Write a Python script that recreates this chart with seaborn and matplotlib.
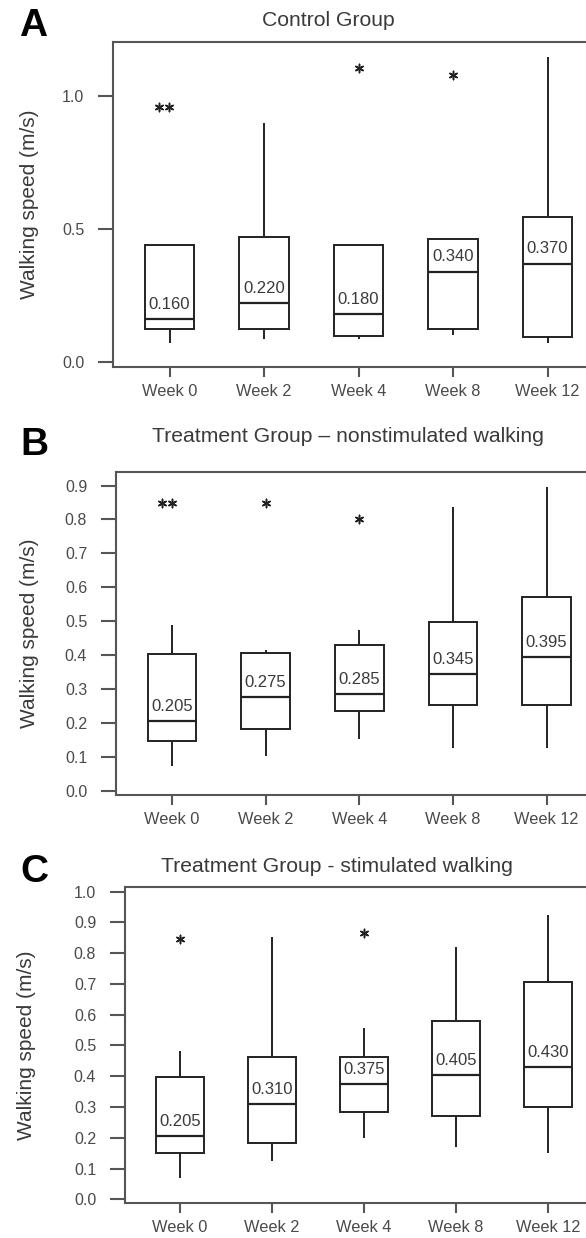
import numpy as np
import pandas as pd
import matplotlib
matplotlib.use("Agg")
import matplotlib.pyplot as plt
from matplotlib.ticker import FormatStrFormatter
import seaborn as sns

# ---------------- data ----------------
weeks = ["Week 0", "Week 2", "Week 4", "Week 8", "Week 12"]

# Control group: five-number summaries (lower whisker, Q1, median, Q3, upper whisker)
ctrl_lo = [0.073, 0.085, 0.086, 0.100, 0.070]
ctrl_q1 = [0.123, 0.123, 0.099, 0.123, 0.095]
ctrl_med = [0.160, 0.220, 0.180, 0.340, 0.370]
ctrl_q3 = [0.440, 0.469, 0.440, 0.462, 0.546]
ctrl_hi = [0.440, 0.900, 0.440, 0.462, 1.148]
ctrl_out_week = ["Week 0", "Week 0", "Week 4", "Week 8"]
ctrl_out_val = [0.960, 0.960, 1.104, 1.080]

# Treatment group, nonstimulated walking
nons_lo = [0.073, 0.102, 0.152, 0.125, 0.125]
nons_q1 = [0.146, 0.181, 0.234, 0.253, 0.253]
nons_med = [0.205, 0.275, 0.285, 0.345, 0.395]
nons_q3 = [0.403, 0.405, 0.430, 0.497, 0.571]
nons_hi = [0.490, 0.415, 0.474, 0.838, 0.897]
nons_out_week = ["Week 0", "Week 0", "Week 2", "Week 4"]
nons_out_val = [0.848, 0.848, 0.850, 0.800]

# Treatment group, stimulated walking
stim_lo = [0.068, 0.125, 0.200, 0.171, 0.152]
stim_q1 = [0.150, 0.182, 0.285, 0.272, 0.299]
stim_med = [0.205, 0.310, 0.375, 0.405, 0.430]
stim_q3 = [0.399, 0.462, 0.462, 0.580, 0.707]
stim_hi = [0.483, 0.854, 0.556, 0.821, 0.924]
stim_out_week = ["Week 0", "Week 4"]
stim_out_val = [0.846, 0.865]

ctrl_title = "Control Group"
nons_title = "Treatment Group \u2013 nonstimulated walking"
stim_title = "Treatment Group - stimulated walking"
ylabel = "Walking speed (m/s)"

ctrl_yticks = [0.0, 0.5, 1.0]
nons_yticks = [0.0, 0.1, 0.2, 0.3, 0.4, 0.5, 0.6, 0.7, 0.8, 0.9]
stim_yticks = [0.0, 0.1, 0.2, 0.3, 0.4, 0.5, 0.6, 0.7, 0.8, 0.9, 1.0]

# ---------------- style ----------------
sns.set_theme(style="white")
plt.rcParams["font.family"] = ["Liberation Sans", "DejaVu Sans"]

W, H = 586, 1238
fig = plt.figure(figsize=(W / 100, H / 100), dpi=100)

BOX_C = "#222222"
AX_C = "#555555"
TXT_C = "#3a3a3a"
TICK_C = "#4a4a4a"

panels = [
    dict(letter="A", title=ctrl_title,
         stats=(ctrl_lo, ctrl_q1, ctrl_med, ctrl_q3, ctrl_hi),
         out=(ctrl_out_week, ctrl_out_val), yticks=ctrl_yticks,
         rect=(112.8, 42, 604.2, 367), ylim=(-0.0188, 1.203),
         title_xy=(328, 21), letter_xy=(33, 26), ylab_x=30),
    dict(letter="B", title=nons_title,
         stats=(nons_lo, nons_q1, nons_med, nons_q3, nons_hi),
         out=(nons_out_week, nons_out_val), yticks=nons_yticks,
         rect=(115.7, 471.7, 602.9, 795), ylim=(-0.0127, 0.941),
         title_xy=(348, 437), letter_xy=(34, 445), ylab_x=30),
    dict(letter="C", title=stim_title,
         stats=(stim_lo, stim_q1, stim_med, stim_q3, stim_hi),
         out=(stim_out_week, stim_out_val), yticks=stim_yticks,
         rect=(124.6, 887.3, 603.0, 1203.3), ylim=(-0.013, 1.014),
         title_xy=(337, 867), letter_xy=(34, 872), ylab_x=27),
]

for p in panels:
    x0, y0, x1, y1 = p["rect"]
    ax = fig.add_axes([x0 / W, 1 - y1 / H, (x1 - x0) / W, (y1 - y0) / H])

    # Long-form table: each week holds its five summary values, so the
    # box edges, median and whisker ends land exactly on them.
    lo, q1, med, q3, hi = p["stats"]
    rows = []
    for i, wk in enumerate(weeks):
        for v in (lo[i], q1[i], med[i], q3[i], hi[i]):
            rows.append((wk, v))
    df = pd.DataFrame(rows, columns=["week", "speed"])

    sns.boxplot(data=df, x="week", y="speed", order=weeks, whis=(0, 100),
                width=0.52, color="white", linecolor=BOX_C, linewidth=1.4,
                showcaps=False, showfliers=False, ax=ax,
                medianprops=dict(color=BOX_C, linewidth=1.6))

    ow, ov = p["out"]
    out_df = pd.DataFrame({"week": ow, "speed": ov})
    sns.swarmplot(data=out_df, x="week", y="speed", order=weeks,
                  marker=(6, 2, 0), size=6, color=BOX_C, linewidth=1.1,
                  edgecolor=BOX_C, ax=ax)

    for i, m in enumerate(med):
        ax.annotate(f"{m:.3f}", xy=(i, m), xytext=(0, 10.5),
                    textcoords="offset points", ha="center", va="center",
                    fontsize=12, color=TXT_C)

    ax.set_xlim(-0.6, 4.6)
    ax.set_ylim(*p["ylim"])
    ax.set_yticks(p["yticks"])
    ax.yaxis.set_major_formatter(FormatStrFormatter("%.1f"))
    ax.set_xlabel("")
    ax.set_ylabel("")

    for side in ("left", "top", "bottom"):
        ax.spines[side].set_color(AX_C)
        ax.spines[side].set_linewidth(1.5)
    ax.spines["right"].set_visible(False)

    ax.tick_params(axis="y", direction="out", length=11, width=1.5,
                   color=AX_C, pad=9.5, labelsize=11.5, labelcolor=TICK_C,
                   left=True)
    ax.tick_params(axis="x", direction="out", length=7, width=1.5,
                   color=AX_C, pad=5, labelsize=11.8, labelcolor=TICK_C,
                   bottom=True)

    fig.text(p["title_xy"][0] / W, 1 - p["title_xy"][1] / H, p["title"],
             ha="center", va="center", fontsize=15.2, color=TXT_C)
    fig.text(p["letter_xy"][0] / W, 1 - p["letter_xy"][1] / H, p["letter"],
             ha="center", va="center", fontsize=28, fontweight="bold",
             color="black")
    fig.text(p["ylab_x"] / W, 1 - (y0 + y1) / 2 / H, ylabel, rotation=90,
             ha="center", va="center", fontsize=15, color=TXT_C)

fig.savefig("out.png", dpi=100)
